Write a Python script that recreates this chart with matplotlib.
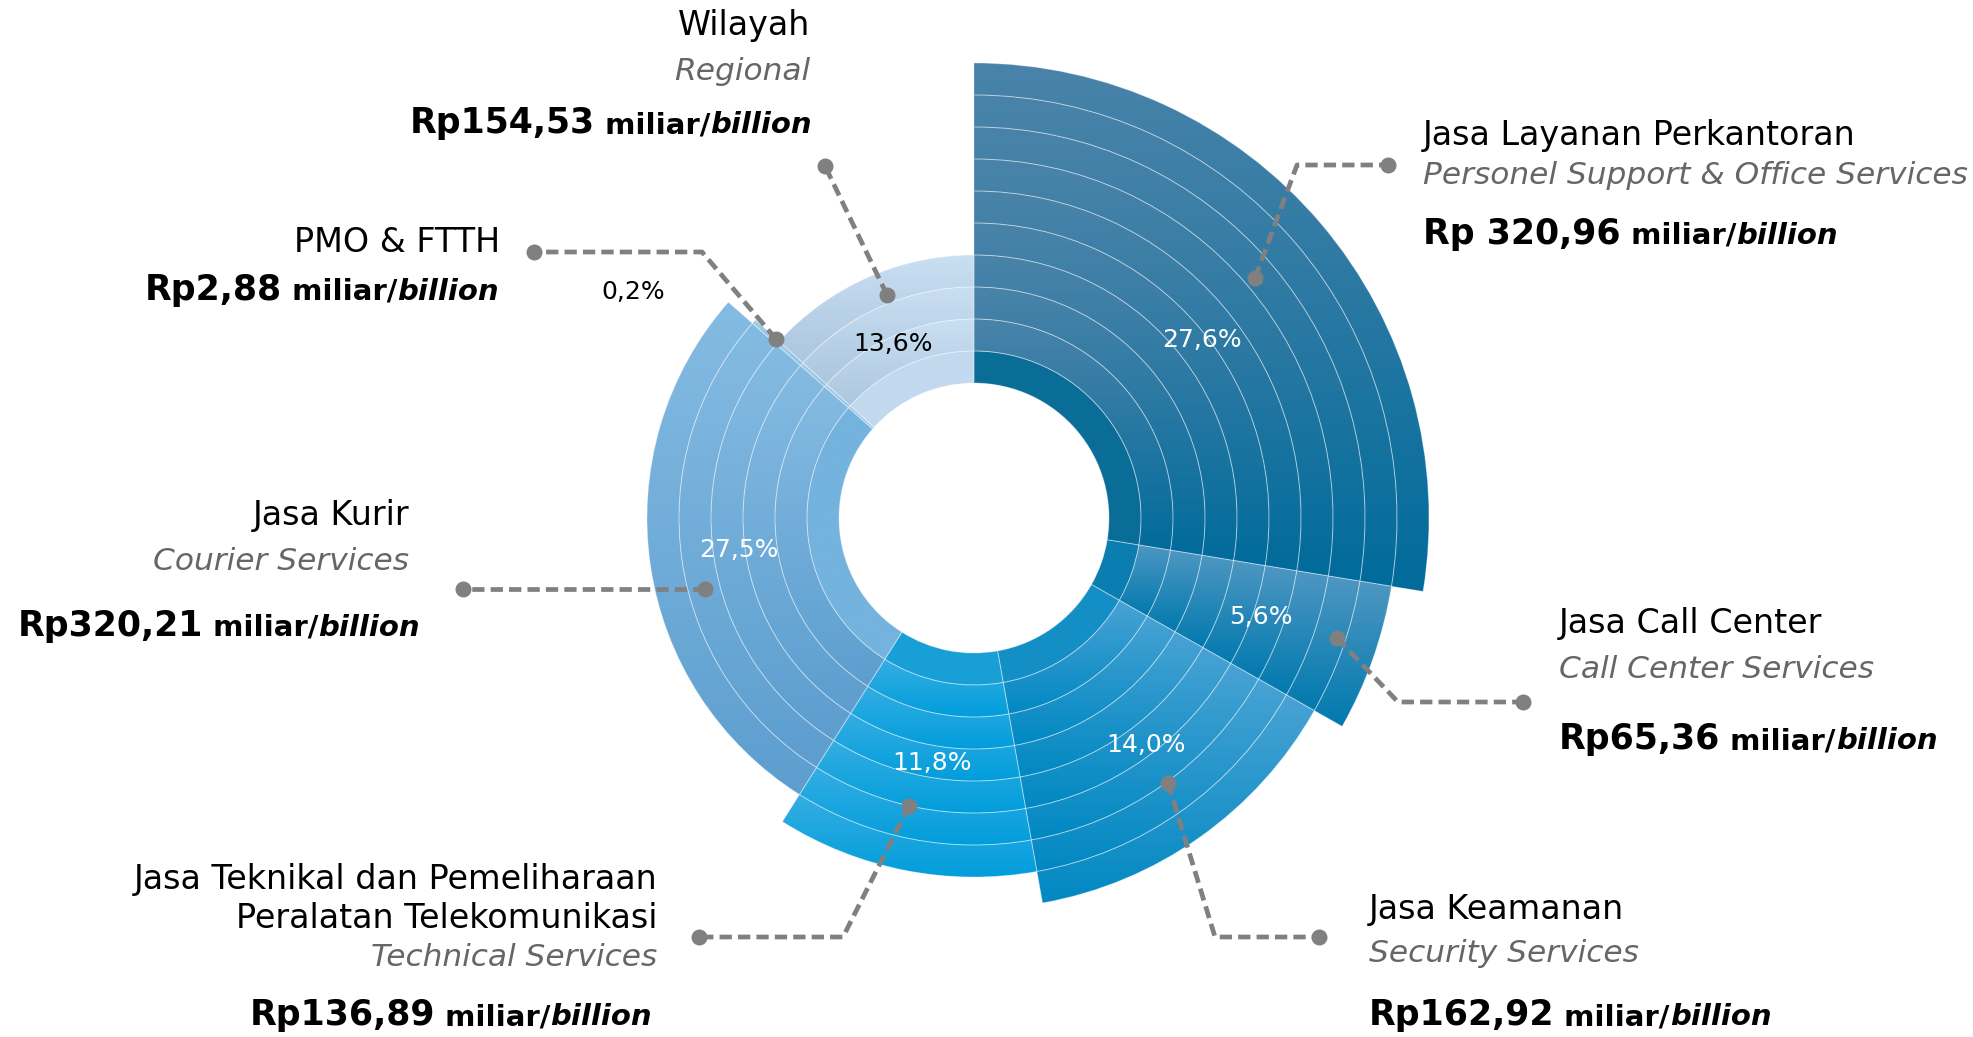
import numpy as np
import matplotlib.pyplot as plt
from matplotlib.patches import Wedge
from matplotlib.colors import LinearSegmentedColormap
from matplotlib.offsetbox import TextArea, HPacker, AnnotationBbox

plt.rcParams['font.family'] = ['DejaVu Sans']

# ---- data (clockwise from 12 o'clock)
names = ['Jasa Layanan Perkantoran', 'Jasa Call Center', 'Jasa Keamanan',
         'Jasa Teknikal dan Pemeliharaan\nPeralatan Telekomunikasi', 'Jasa Kurir',
         'PMO & FTTH', 'Wilayah']
names_en = ['Personel Support & Office Services', 'Call Center Services', 'Security Services',
            'Technical Services', 'Courier Services', '', 'Regional']
values = [320.96, 65.36, 162.92, 136.89, 320.21, 2.88, 154.53]
value_labels = ['Rp 320,96', 'Rp65,36', 'Rp162,92', 'Rp136,89', 'Rp320,21', 'Rp2,88', 'Rp154,53']
pct_labels = ['27,6%', '5,6%', '14,0%', '11,8%', '27,5%', '0,2%', '13,6%']

# ---- style
rings = [10, 9, 8, 7, 6, 5, 4]          # number of bands per wedge
light = ['#4a83a9', '#4f97c2', '#4aa3d4', '#35aee3', '#84bbe2', '#a6cfea', '#cadff2']
dark = ['#006b9b', '#0079ae', '#0088c2', '#009ddb', '#5d9ecf', '#8fc0e3', '#abc6df']
inner = ['#0a6d97', '#0b7db0', '#148fc6', '#199fd7', '#74b3de', '#9cc8e7', '#c2d9ee']
cx, cy, r0, dr = 974, 518, 135, 32

fig = plt.figure(figsize=(19.74, 10.37), dpi=100)
ax = fig.add_axes([0, 0, 1, 1])

grad = np.linspace(0, 1, 256).reshape(-1, 1)
total = sum(values)
start = 0.0
for i, v in enumerate(values):
    t1 = start / total * 360 - 90
    t2 = (start + v) / total * 360 - 90
    start += v
    for k in range(rings[i]):
        r_in = r0 + k * dr
        r_out = r_in + dr
        a = np.radians(np.linspace(t1, t2, 120))
        xs = np.concatenate([cx + r_in * np.cos(a), cx + r_out * np.cos(a)])
        ys = np.concatenate([cy + r_in * np.sin(a), cy + r_out * np.sin(a)])
        cols = [inner[i], inner[i]] if k == 0 else [light[i], dark[i]]
        cmap = LinearSegmentedColormap.from_list('b', cols)
        clip = Wedge((cx, cy), r_out, t1, t2, width=dr, transform=ax.transData)
        im = ax.imshow(grad, cmap=cmap, origin='lower', aspect='auto', interpolation='bilinear',
                       extent=(xs.min() - 1, xs.max() + 1, ys.min() - 1, ys.max() + 1))
        im.set_clip_path(clip)
        ax.add_patch(Wedge((cx, cy), r_out, t1, t2, width=dr, fill=False,
                           edgecolor=(1, 1, 1, 0.3), lw=0.7))

# ---- leader lines
leaders = [
    [(1255, 278), (1297, 165), (1388, 165)],
    [(1337, 638), (1398, 702), (1523, 702)],
    [(1168, 783), (1215, 937), (1319, 937)],
    [(909, 806), (843, 937), (699, 937)],
    [(705, 589), (463, 589)],
    [(776, 339), (702, 252), (534, 252)],
    [(887, 295), (825, 166)],
]
for pts in leaders:
    px, py = zip(*pts)
    ax.plot(px, py, color='#808080', lw=3.4, dashes=(2.6, 1.3), solid_capstyle='butt')
    ax.plot([px[0], px[-1]], [py[0], py[-1]], 'o', color='#808080', ms=10.5)

# ---- percent labels
pct_pos = [(1202, 340), (1261, 617), (1146, 745), (932, 763), (739, 550), (633, 292), (893, 344)]
pct_col = ['white'] * 5 + ['black', 'black']
for (x, y), s, c in zip(pct_pos, pct_labels, pct_col):
    ax.text(x, y, s, ha='center', va='center', fontsize=18, color=c)

# ---- category labels
label_x = [1423, 1559, 1369, 657, 409, 500, 810]
label_ha = ['left', 'left', 'left', 'right', 'right', 'right', 'right']
name_y = [136, 624, 909, 899, 516, 243, 26]
en_y = [175, 670, 954, 957, 561, None, 72]
val_pos = [(1423, 234), (1559, 739), (1369, 1015), (652, 1015), (420, 626), (499, 290), (812, 123)]

for i in range(len(names)):
    ax.text(label_x[i], name_y[i], names[i], ha=label_ha[i], va='center', fontsize=24,
            color='black', linespacing=1.22, multialignment=label_ha[i])
    if names_en[i]:
        ax.text(label_x[i], en_y[i], names_en[i], ha=label_ha[i], va='center', fontsize=22.5,
                color='#666666', style='italic')
    parts = [TextArea(value_labels[i], textprops=dict(fontsize=25, fontweight='bold', color='black')),
             TextArea(' miliar/', textprops=dict(fontsize=21, fontweight='bold', color='black')),
             TextArea('billion', textprops=dict(fontsize=21, fontweight='bold', style='italic',
                                                color='black'))]
    box = HPacker(children=parts, align='baseline', pad=0, sep=0)
    ab = AnnotationBbox(box, val_pos[i], frameon=False, pad=0,
                        box_alignment=(0 if label_ha[i] == 'left' else 1, 0.5))
    ax.add_artist(ab)

ax.set_xlim(0, 1974)
ax.set_ylim(1037, 0)
ax.axis('off')
fig.savefig('out.png', dpi=100, facecolor='white')
